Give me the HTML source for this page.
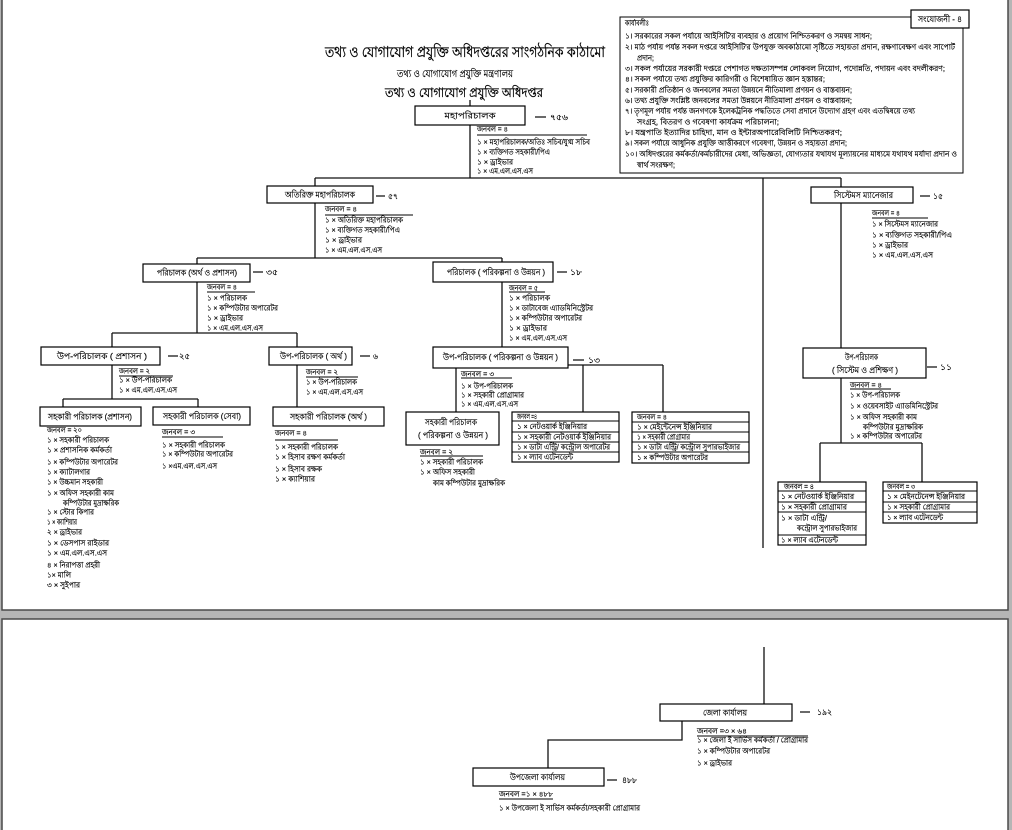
<!DOCTYPE html>
<html><head><meta charset="utf-8"><style>
html,body{margin:0;padding:0;background:#b5b5b5;}
svg{display:block}
text{font-family:"Liberation Sans",sans-serif;fill:#000;stroke:#000;stroke-width:0.2;}
.tt{stroke-width:0.35}
.b{fill:#fff;stroke:#000;stroke-width:1.2}
.t{fill:none;stroke:#000;stroke-width:1}
.l{fill:none;stroke:#111;stroke-width:1.3}
.u{fill:none;stroke:#000;stroke-width:0.9}
.s{font-size:7.5px}
.m{font-size:8.5px}
</style></head><body>
<svg width="1012" height="830" viewBox="0 0 1012 830" xmlns="http://www.w3.org/2000/svg">
<rect x="0" y="0" width="1012" height="830" fill="#b5b5b5"/>
<rect x="2" y="-5" width="1006" height="615" fill="#fff" stroke="#4a4a4a" stroke-width="1.5"/>
<rect x="2" y="619" width="1006" height="220" fill="#fff" stroke="#4a4a4a" stroke-width="1.5"/>

<!-- Titles -->
<text class="tt" x="325" y="57" textLength="280" lengthAdjust="spacingAndGlyphs" font-size="15">তথ্য ও যোগাযোগ প্রযুক্তি অধিদপ্তরের সাংগঠনিক কাঠামো</text>
<text x="397" y="77" textLength="116" lengthAdjust="spacingAndGlyphs" font-size="10">তথ্য ও যোগাযোগ প্রযুক্তি মন্ত্রণালয়</text>
<text class="tt" x="385" y="97" textLength="158" lengthAdjust="spacingAndGlyphs" font-size="13">তথ্য ও যোগাযোগ প্রযুক্তি অধিদপ্তর</text>

<!-- Functions box -->
<path class="t" d="M911 17 H620 V173 H963 V28"/>
<rect class="b" x="911" y="10" width="58" height="18"/>
<text class="m" x="918" y="22" textLength="44" lengthAdjust="spacingAndGlyphs">সংযোজনী - ৪</text>
<g class="s">
<text x="625" y="25.7" textLength="24" lengthAdjust="spacingAndGlyphs">কার্যাবলীঃ</text>
<text x="625" y="38.7" textLength="247" lengthAdjust="spacingAndGlyphs">১। সরকারের সকল পর্যায়ে আইসিটি'র ব্যবহার ও প্রয়োগ নিশ্চিতকরণ ও সমন্বয় সাধন;</text>
<text x="625" y="49.7" textLength="330" lengthAdjust="spacingAndGlyphs">২। মাঠ পর্যায় পর্যন্ত সকল দপ্তরে আইসিটি'র উপযুক্ত অবকাঠামো সৃষ্টিতে সহায়তা প্রদান, রক্ষণাবেক্ষণ এবং সাপোর্ট</text>
<text x="637" y="60.4" textLength="17" lengthAdjust="spacingAndGlyphs">প্রদান;</text>
<text x="625" y="71.1" textLength="320" lengthAdjust="spacingAndGlyphs">৩। সকল পর্যায়ের সরকারী দপ্তরে পেশাগত দক্ষতাসম্পন্ন লোকবল নিয়োগ, পদোন্নতি, পদায়ন এবং বদলীকরণ;</text>
<text x="625" y="81.7" textLength="200" lengthAdjust="spacingAndGlyphs">৪। সকল পর্যায়ে তথ্য প্রযুক্তির কারিগরী ও বিশেষায়িত জ্ঞান হস্তান্তর;</text>
<text x="625" y="92.5" textLength="227" lengthAdjust="spacingAndGlyphs">৫। সরকারী প্রতিষ্ঠান ও জনবলের সমতা উন্নয়নে নীতিমালা প্রণয়ন ও বাস্তবায়ন;</text>
<text x="625" y="103.2" textLength="227" lengthAdjust="spacingAndGlyphs">৬। তথ্য প্রযুক্তি সংশ্লিষ্ট জনবলের সমতা উন্নয়নে নীতিমালা প্রণয়ন ও বাস্তবায়ন;</text>
<text x="625" y="113.7" textLength="290" lengthAdjust="spacingAndGlyphs">৭। তৃণমূল পর্যায় পর্যন্ত জনগণকে ইলেকট্রনিক পদ্ধতিতে সেবা প্রদানে উদ্যোগ গ্রহণ এবং এতদ্বিষয়ে তথ্য</text>
<text x="637" y="124.7" textLength="142" lengthAdjust="spacingAndGlyphs">সংগ্রহ, বিতরণ ও গবেষণা কার্যক্রম পরিচালনা;</text>
<text x="625" y="135.2" textLength="217" lengthAdjust="spacingAndGlyphs">৮। যন্ত্রপাতি ইত্যাদির চাহিদা, মান ও ইন্টারঅপারেবিলিটি নিশ্চিতকরণ;</text>
<text x="625" y="145.7" textLength="222" lengthAdjust="spacingAndGlyphs">৯। সকল পর্যায়ে আধুনিক প্রযুক্তি আত্তীকরণে গবেষণা, উন্নয়ন ও সহায়তা প্রদান;</text>
<text x="625" y="156.7" textLength="332" lengthAdjust="spacingAndGlyphs">১০। অধিদপ্তরের কর্মকর্তা/কর্মচারীদের মেধা, অভিজ্ঞতা, যোগ্যতার যথাযথ মূল্যায়নের মাধ্যমে যথাযথ মর্যাদা প্রদান ও</text>
<text x="637" y="167.7" textLength="38" lengthAdjust="spacingAndGlyphs">স্বার্থ সংরক্ষণ;</text>
</g>

<!-- Connectors -->
<path class="l" d="M470 100 V106 M470 125 V178 M315 178 H841 M763 178 V548 M315 178 V186 M841 178 V187
M315 203 V258 M197 258 H502 M197 258 V264 M502 258 V262 M197 282 V333 M112 333 H297 M112 333 V347 M297 333 V347
M112 365 V399 M63 399 H198 M63 399 V407 M198 399 V407 M297 365 V407 M502 282 V347
M568 365 H663 M583 365 V412 M663 365 V412 M456 368 V412
M841 203 V348 M841 378 V443 M820 443 H922 M820 443 V482 M922 443 V482
M764 647 V704 M682 721 V740 H548 V768"/>
<!-- dashes -->
<path class="l" d="M535 117 H546 M376 196 H385 M253 272 H263 M168 356 H178 M360 356 H370 M557 272 H567 M573 360 H584 M920 196 H930 M927 367 H937 M800 712 H810 M607 780 H617"/>
<g class="m">
<text x="550" y="120" textLength="18" lengthAdjust="spacingAndGlyphs">৭৫৬</text>
<text x="388" y="199" textLength="10" lengthAdjust="spacingAndGlyphs">৫৭</text>
<text x="266" y="275" textLength="12" lengthAdjust="spacingAndGlyphs">৩৫</text>
<text x="179" y="359" textLength="11" lengthAdjust="spacingAndGlyphs">২৫</text>
<text x="373" y="359" textLength="5" lengthAdjust="spacingAndGlyphs">৬</text>
<text x="570" y="275" textLength="12" lengthAdjust="spacingAndGlyphs">১৮</text>
<text x="588" y="363" textLength="12" lengthAdjust="spacingAndGlyphs">১৩</text>
<text x="933" y="199" textLength="10" lengthAdjust="spacingAndGlyphs">১৫</text>
<text x="940" y="370" textLength="12" lengthAdjust="spacingAndGlyphs">১১</text>
<text x="817" y="715" textLength="15" lengthAdjust="spacingAndGlyphs">১৯২</text>
<text x="622" y="783" textLength="15" lengthAdjust="spacingAndGlyphs">৪৮৮</text>
</g>

<!-- Boxes -->
<rect class="b" x="415" y="106" width="110" height="19"/>
<rect class="b" x="267" y="186" width="106" height="17"/>
<rect class="b" x="143" y="264" width="107" height="18"/>
<rect class="b" x="433" y="262" width="120" height="20"/>
<rect class="b" x="41" y="347" width="119" height="18"/>
<rect class="b" x="269" y="347" width="83" height="18"/>
<rect class="b" x="433" y="347" width="135" height="21"/>
<rect class="b" x="40" y="407" width="101" height="19"/>
<rect class="b" x="153" y="407" width="97" height="18"/>
<rect class="b" x="273" y="407" width="111" height="19"/>
<rect class="b" x="406" y="412" width="93" height="33"/>
<rect class="b" x="811" y="187" width="102" height="16"/>
<rect class="b" x="803" y="348" width="123" height="30"/>
<rect class="b" x="660" y="704" width="132" height="17"/>
<rect class="b" x="473" y="768" width="131" height="18"/>
<g class="m">
<text x="444.5" y="118.5" textLength="51" lengthAdjust="spacingAndGlyphs">মহাপরিচালক</text>
<text x="285" y="197.5" textLength="70" lengthAdjust="spacingAndGlyphs">অতিরিক্ত মহাপরিচালক</text>
<text x="157" y="275.5" textLength="80" lengthAdjust="spacingAndGlyphs">পরিচালক (অর্থ ও প্রশাসন)</text>
<text x="447" y="275" textLength="98" lengthAdjust="spacingAndGlyphs">পরিচালক ( পরিকল্পনা ও উন্নয়ন )</text>
<text x="57" y="359" textLength="90" lengthAdjust="spacingAndGlyphs">উপ-পরিচালক ( প্রশাসন )</text>
<text x="280" y="359" textLength="67" lengthAdjust="spacingAndGlyphs">উপ-পরিচালক ( অর্থ )</text>
<text x="443" y="360" textLength="115" lengthAdjust="spacingAndGlyphs">উপ-পরিচালক ( পরিকল্পনা ও উন্নয়ন )</text>
<text x="48" y="419.5" textLength="84" lengthAdjust="spacingAndGlyphs">সহকারী পরিচালক (প্রশাসন)</text>
<text x="163" y="419" textLength="78" lengthAdjust="spacingAndGlyphs">সহকারী পরিচালক (সেবা)</text>
<text x="290" y="419.5" textLength="77" lengthAdjust="spacingAndGlyphs">সহকারী পরিচালক (অর্থ )</text>
<text x="425" y="425" textLength="52" lengthAdjust="spacingAndGlyphs">সহকারী পরিচালক</text>
<text x="418" y="438" textLength="70" lengthAdjust="spacingAndGlyphs">( পরিকল্পনা ও উন্নয়ন )</text>
<text x="834" y="198" textLength="59" lengthAdjust="spacingAndGlyphs">সিস্টেমস ম্যানেজার</text>
<text x="845" y="360" textLength="33" lengthAdjust="spacingAndGlyphs">উপ-পরিচালক</text>
<text x="832" y="373" textLength="66" lengthAdjust="spacingAndGlyphs">( সিস্টেম ও প্রশিক্ষণ )</text>
<text x="703" y="715.5" textLength="44" lengthAdjust="spacingAndGlyphs">জেলা কার্যালয়</text>
<text x="510" y="780" textLength="55" lengthAdjust="spacingAndGlyphs">উপজেলা কার্যালয়</text>
</g>

<!-- Tables -->
<rect class="b" x="512" y="412" width="107" height="50"/>
<path class="t" d="M512 421 H619 M512 432 H619 M512 442 H619 M512 452 H619"/>
<rect class="b" x="632" y="412" width="117" height="51"/>
<path class="t" d="M632 422 H749 M632 432 H749 M632 442 H749 M632 452 H749"/>
<rect class="b" x="778" y="482" width="88" height="63"/>
<path class="t" d="M778 491 H866 M778 502 H866 M778 512 H866 M778 535 H866"/>
<rect class="b" x="883" y="482" width="94" height="41"/>
<path class="t" d="M883 491 H977 M883 502 H977 M883 512 H977"/>

<!-- Underlines -->
<path class="u" d="M477 135 H587 M325 215 H413 M207 292 H255 M509 292 H545 M119 376 H173 M306 377 H358 M461 378 H512 M162 437 H223 M275 440 H338 M420 456 H483 M872 218 H928 M850 389 H891 M697 736 H808 M499 799 H553"/>

<g class="s">
<!-- Mahaparichalak -->
<text x="477" y="131.7" textLength="31" lengthAdjust="spacingAndGlyphs">জনবল = ৪</text>
<text x="477" y="144.7" textLength="113" lengthAdjust="spacingAndGlyphs">১ × মহাপরিচালক/অতিঃ সচিব/যুগ্ম সচিব</text>
<text x="477" y="154.7" textLength="73" lengthAdjust="spacingAndGlyphs">১ × ব্যক্তিগত সহকারী/পিএ</text>
<text x="477" y="164.7" textLength="36" lengthAdjust="spacingAndGlyphs">১ × ড্রাইভার</text>
<text x="477" y="173.7" textLength="56" lengthAdjust="spacingAndGlyphs">১ × এম.এল.এস.এস</text>
<!-- Otirikto -->
<text x="325" y="211.7" textLength="32" lengthAdjust="spacingAndGlyphs">জনবল = ৪</text>
<text x="325" y="222.7" textLength="78" lengthAdjust="spacingAndGlyphs">১ × অতিরিক্ত মহাপরিচালক</text>
<text x="325" y="232.7" textLength="75" lengthAdjust="spacingAndGlyphs">১ × ব্যক্তিগত সহকারী/পিএ</text>
<text x="325" y="242.7" textLength="37" lengthAdjust="spacingAndGlyphs">১ × ড্রাইভার</text>
<text x="325" y="252.7" textLength="57" lengthAdjust="spacingAndGlyphs">১ × এম.এল.এস.এস</text>
<!-- Parichalak artha -->
<text x="207" y="289.7" textLength="30" lengthAdjust="spacingAndGlyphs">জনবল = ৪</text>
<text x="207" y="300.7" textLength="40" lengthAdjust="spacingAndGlyphs">১ × পরিচালক</text>
<text x="207" y="310.7" textLength="71" lengthAdjust="spacingAndGlyphs">১ × কম্পিউটার অপারেটর</text>
<text x="207" y="320.7" textLength="36" lengthAdjust="spacingAndGlyphs">১ × ড্রাইভার</text>
<text x="207" y="330.7" textLength="56" lengthAdjust="spacingAndGlyphs">১ × এম.এল.এস.এস</text>
<!-- Parichalak porikolpona -->
<text x="509" y="290.7" textLength="29" lengthAdjust="spacingAndGlyphs">জনবল = ৫</text>
<text x="509" y="300.7" textLength="41" lengthAdjust="spacingAndGlyphs">১ × পরিচালক</text>
<text x="509" y="310.7" textLength="84" lengthAdjust="spacingAndGlyphs">১ × ডাটাবেজ এ্যাডমিনিস্ট্রেটর</text>
<text x="509" y="320.7" textLength="73" lengthAdjust="spacingAndGlyphs">১ × কম্পিউটার অপারেটর</text>
<text x="509" y="330.7" textLength="38" lengthAdjust="spacingAndGlyphs">১ × ড্রাইভার</text>
<text x="509" y="340.7" textLength="58" lengthAdjust="spacingAndGlyphs">১ × এম.এল.এস.এস</text>
<!-- Up prashashan -->
<text x="119" y="373.7" textLength="31" lengthAdjust="spacingAndGlyphs">জনবল = ২</text>
<text x="119" y="382.7" textLength="53" lengthAdjust="spacingAndGlyphs">১ × উপ-পরিচালক</text>
<text x="119" y="392.7" textLength="58" lengthAdjust="spacingAndGlyphs">১ × এম.এল.এস.এস</text>
<!-- Up artha -->
<text x="306" y="374.7" textLength="32" lengthAdjust="spacingAndGlyphs">জনবল = ২</text>
<text x="306" y="384.7" textLength="51" lengthAdjust="spacingAndGlyphs">১ × উপ-পরিচালক</text>
<text x="306" y="394.7" textLength="57" lengthAdjust="spacingAndGlyphs">১ × এম.এল.এস.এস</text>
<!-- Up porikolpona -->
<text x="461" y="376.7" textLength="33" lengthAdjust="spacingAndGlyphs">জনবল = ৩</text>
<text x="461" y="388.7" textLength="52" lengthAdjust="spacingAndGlyphs">১ × উপ-পরিচালক</text>
<text x="461" y="397.7" textLength="63" lengthAdjust="spacingAndGlyphs">১ × সহকারী প্রোগ্রামার</text>
<text x="461" y="406.7" textLength="57" lengthAdjust="spacingAndGlyphs">১ × এম.এল.এস.এস</text>
<!-- Sohokari porikolpona -->
<text x="420" y="454.7" textLength="33" lengthAdjust="spacingAndGlyphs">জনবল = ২</text>
<text x="420" y="464.7" textLength="63" lengthAdjust="spacingAndGlyphs">১ × সহকারী পরিচালক</text>
<text x="420" y="474.7" textLength="55" lengthAdjust="spacingAndGlyphs">১ × অফিস সহকারী</text>
<text x="433" y="485.7" textLength="72" lengthAdjust="spacingAndGlyphs">কাম কম্পিউটার মুদ্রাক্ষরিক</text>
<!-- Prashashan list -->
<text x="47" y="432.7" textLength="35" lengthAdjust="spacingAndGlyphs">জনবল = ২০</text>
<text x="47" y="442.7" textLength="62" lengthAdjust="spacingAndGlyphs">১ × সহকারী পরিচালক</text>
<text x="47" y="452.7" textLength="65" lengthAdjust="spacingAndGlyphs">১ × প্রশাসনিক কর্মকর্তা</text>
<text x="47" y="464.7" textLength="71" lengthAdjust="spacingAndGlyphs">১ × কম্পিউটার অপারেটর</text>
<text x="47" y="474.7" textLength="43" lengthAdjust="spacingAndGlyphs">১ × ক্যাটালগার</text>
<text x="47" y="484.7" textLength="56" lengthAdjust="spacingAndGlyphs">১ × উচ্চমান সহকারী</text>
<text x="47" y="495.7" textLength="67" lengthAdjust="spacingAndGlyphs">১ × অফিস সহকারী কাম</text>
<text x="63" y="505.7" textLength="56" lengthAdjust="spacingAndGlyphs">কম্পিউটার মুদ্রাক্ষরিক</text>
<text x="47" y="514.7" textLength="47" lengthAdjust="spacingAndGlyphs">১ × স্টোর কিপার</text>
<text x="47" y="524.7" textLength="30" lengthAdjust="spacingAndGlyphs">১ × ক্যাশিয়ার</text>
<text x="47" y="534.7" textLength="35" lengthAdjust="spacingAndGlyphs">২ × ড্রাইভার</text>
<text x="47" y="545.7" textLength="62" lengthAdjust="spacingAndGlyphs">১ × ডেসপাস রাইডার</text>
<text x="47" y="555.7" textLength="60" lengthAdjust="spacingAndGlyphs">১ × এম.এল.এস.এস</text>
<text x="47" y="567.7" textLength="53" lengthAdjust="spacingAndGlyphs">৪ × নিরাপত্তা প্রহরী</text>
<text x="47" y="577.7" textLength="24" lengthAdjust="spacingAndGlyphs">১× মালি</text>
<text x="47" y="587.7" textLength="33" lengthAdjust="spacingAndGlyphs">৩ × সুইপার</text>
<!-- Sheba list -->
<text x="162" y="434.7" textLength="33" lengthAdjust="spacingAndGlyphs">জনবল = ৩</text>
<text x="162" y="447.7" textLength="63" lengthAdjust="spacingAndGlyphs">১ × সহকারী পরিচালক</text>
<text x="162" y="456.7" textLength="71" lengthAdjust="spacingAndGlyphs">১ × কম্পিউটার অপারেটর</text>
<text x="162" y="468.7" textLength="55" lengthAdjust="spacingAndGlyphs">১ ×এম.এল.এস.এস</text>
<!-- Artha list -->
<text x="275" y="435.7" textLength="32" lengthAdjust="spacingAndGlyphs">জনবল = ৪</text>
<text x="275" y="449.7" textLength="63" lengthAdjust="spacingAndGlyphs">১ × সহকারী পরিচালক</text>
<text x="275" y="459.7" textLength="70" lengthAdjust="spacingAndGlyphs">১ × হিসাব রক্ষণ কর্মকর্তা</text>
<text x="275" y="471.7" textLength="47" lengthAdjust="spacingAndGlyphs">১ × হিসাব রক্ষক</text>
<text x="275" y="481.7" textLength="40" lengthAdjust="spacingAndGlyphs">১ × ক্যাশিয়ার</text>
<!-- Middle table -->
<text x="517" y="419.2" textLength="20" lengthAdjust="spacingAndGlyphs">জনবল =৪</text>
<text x="517" y="429.2" textLength="70" lengthAdjust="spacingAndGlyphs">১ × নেটওয়ার্ক ইঞ্জিনিয়ার</text>
<text x="517" y="439.7" textLength="94" lengthAdjust="spacingAndGlyphs">১ × সহকারী নেটওয়ার্ক ইঞ্জিনিয়ার</text>
<text x="517" y="449.7" textLength="93" lengthAdjust="spacingAndGlyphs">১ × ডাটা এন্ট্রি/ কন্ট্রোল অপারেটর</text>
<text x="517" y="459.7" textLength="56" lengthAdjust="spacingAndGlyphs">১ × ল্যাব এটেনডেন্ট</text>
<!-- Right table -->
<text x="637" y="419.7" textLength="30" lengthAdjust="spacingAndGlyphs">জনবল = ৪</text>
<text x="637" y="429.7" textLength="75" lengthAdjust="spacingAndGlyphs">১ × মেইন্টেনেন্স ইঞ্জিনিয়ার</text>
<text x="637" y="439.7" textLength="53" lengthAdjust="spacingAndGlyphs">১ × সহকারী প্রোগ্রামার</text>
<text x="637" y="449.7" textLength="103" lengthAdjust="spacingAndGlyphs">১ × ডাটা এন্ট্রি/ কন্ট্রোল সুপারভাইজার</text>
<text x="637" y="460.2" textLength="71" lengthAdjust="spacingAndGlyphs">১ × কম্পিউটার অপারেটর</text>
<!-- Systems manager -->
<text x="872" y="215.7" textLength="28" lengthAdjust="spacingAndGlyphs">জনবল = ৪</text>
<text x="872" y="226.7" textLength="66" lengthAdjust="spacingAndGlyphs">১ × সিস্টেমস ম্যানেজার</text>
<text x="872" y="237.7" textLength="80" lengthAdjust="spacingAndGlyphs">১ × ব্যক্তিগত সহকারী/পিএ</text>
<text x="872" y="247.7" textLength="36" lengthAdjust="spacingAndGlyphs">১ × ড্রাইভার</text>
<text x="872" y="257.7" textLength="61" lengthAdjust="spacingAndGlyphs">১ × এম.এল.এস.এস</text>
<!-- Up systems -->
<text x="850" y="387.7" textLength="32" lengthAdjust="spacingAndGlyphs">জনবল = ৪</text>
<text x="850" y="397.7" textLength="50" lengthAdjust="spacingAndGlyphs">১ × উপ-পরিচালক</text>
<text x="850" y="408.7" textLength="88" lengthAdjust="spacingAndGlyphs">১ × ওয়েবসাইট এ্যাডমিনিস্ট্রেটর</text>
<text x="850" y="419.7" textLength="67" lengthAdjust="spacingAndGlyphs">১ × অফিস সহকারী কাম</text>
<text x="863" y="429.7" textLength="60" lengthAdjust="spacingAndGlyphs">কম্পিউটার মুদ্রাক্ষরিক</text>
<text x="850" y="438.7" textLength="72" lengthAdjust="spacingAndGlyphs">১ × কম্পিউটার অপারেটর</text>
<!-- Right-branch tables -->
<text x="784" y="489.2" textLength="30" lengthAdjust="spacingAndGlyphs">জনবল = ৪</text>
<text x="781" y="499.2" textLength="73" lengthAdjust="spacingAndGlyphs">১ × নেটওয়ার্ক ইঞ্জিনিয়ার</text>
<text x="781" y="509.7" textLength="66" lengthAdjust="spacingAndGlyphs">১ × সহকারী প্রোগ্রামার</text>
<text x="781" y="520.7" textLength="46" lengthAdjust="spacingAndGlyphs">১ × ডাটা এন্ট্রি/</text>
<text x="797" y="530.7" textLength="60" lengthAdjust="spacingAndGlyphs">কন্ট্রোল সুপারভাইজার</text>
<text x="781" y="542.7" textLength="57" lengthAdjust="spacingAndGlyphs">১ × ল্যাব এটেনডেন্ট</text>
<text x="887" y="489.2" textLength="28" lengthAdjust="spacingAndGlyphs">জনবল = ৩</text>
<text x="887" y="499.2" textLength="78" lengthAdjust="spacingAndGlyphs">১ × মেইনটেনেন্স ইঞ্জিনিয়ার</text>
<text x="887" y="509.7" textLength="63" lengthAdjust="spacingAndGlyphs">১ × সহকারী প্রোগ্রামার</text>
<text x="887" y="520.2" textLength="56" lengthAdjust="spacingAndGlyphs">১ × ল্যাব এটেনডেন্ট</text>
<!-- District -->
<text x="697" y="733.5" textLength="50" lengthAdjust="spacingAndGlyphs">জনবল =৩ × ৬৪</text>
<text x="697" y="742.7" textLength="111" lengthAdjust="spacingAndGlyphs">১ × জেলা ই সার্ভিস কর্মকর্তা / প্রোগ্রামার</text>
<text x="697" y="753.7" textLength="73" lengthAdjust="spacingAndGlyphs">১ × কম্পিউটার অপারেটর</text>
<text x="697" y="765.7" textLength="35" lengthAdjust="spacingAndGlyphs">১ × ড্রাইভার</text>
<!-- Upazila -->
<text x="499" y="796.5" textLength="54" lengthAdjust="spacingAndGlyphs">জনবল =১ × ৪৮৮</text>
<text x="499" y="810.7" textLength="141" lengthAdjust="spacingAndGlyphs">১ × উপজেলা ই সার্ভিস কর্মকর্তা/সহকারী প্রোগ্রামার</text>
</g>
</svg>
</body></html>
